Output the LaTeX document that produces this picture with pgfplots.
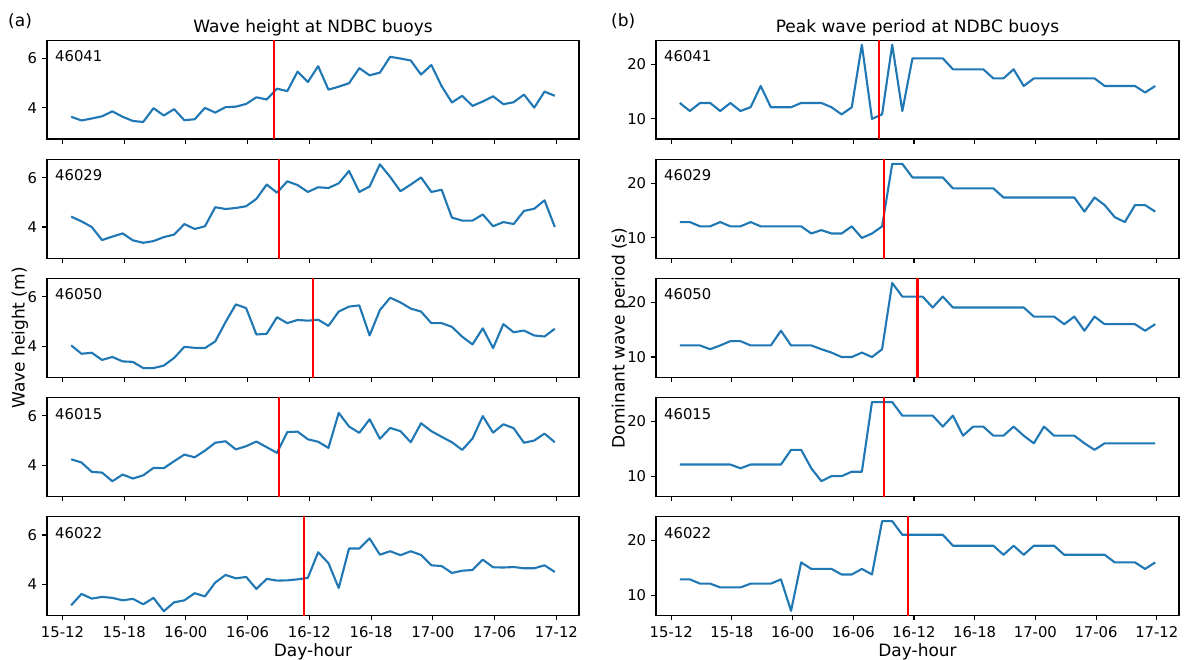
\documentclass[border=0pt]{standalone}
\usepackage{fontspec}
\setmainfont{DejaVu Sans}
\usepackage{pgfplots}
\usepackage{pgfplotstable}
\pgfplotsset{compat=1.18}
\definecolor{mplblue}{HTML}{1F77B4}
\newcommand\tickfont{\fontsize{14.8pt}{17pt}\selectfont}
\newcommand\labfont{\fontsize{17pt}{20pt}\selectfont}

% wave height (m): a=46041 b=46029 c=46050 d=46015 e=46022
\pgfplotstableread{
x a b c d e
0.85 3.64 4.42 4.03 4.24 3.15
1.85 3.49 4.23 3.69 4.11 3.61
2.85 3.57 4.00 3.73 3.73 3.42
3.85 3.66 3.47 3.44 3.70 3.49
4.85 3.86 3.61 3.56 3.35 3.45
5.85 3.64 3.74 3.38 3.62 3.35
6.85 3.47 3.46 3.36 3.46 3.41
7.85 3.43 3.36 3.11 3.59 3.19
8.85 3.99 3.43 3.11 3.89 3.45
9.85 3.69 3.59 3.21 3.88 2.91
10.85 3.95 3.69 3.52 4.16 3.27
11.85 3.50 4.12 3.97 4.43 3.35
12.85 3.54 3.92 3.93 4.32 3.64
13.85 4.00 4.03 3.92 4.59 3.51
14.85 3.81 4.80 4.19 4.91 4.07
15.85 4.03 4.73 4.97 4.97 4.38
16.85 4.05 4.77 5.69 4.64 4.24
17.85 4.16 4.84 5.54 4.77 4.30
18.85 4.43 5.14 4.47 4.96 3.81
19.85 4.34 5.72 4.50 4.73 4.22
20.85 4.78 5.39 5.17 4.50 4.15
21.85 4.68 5.85 4.93 5.34 4.16
22.85 5.47 5.70 5.06 5.36 4.20
23.85 5.05 5.42 5.03 5.05 4.26
24.85 5.69 5.61 5.07 4.95 5.30
25.85 4.74 5.58 4.82 4.70 4.86
26.85 4.86 5.77 5.40 6.12 3.85
27.85 5.00 6.27 5.60 5.57 5.45
28.85 5.61 5.42 5.65 5.31 5.45
29.85 5.32 5.64 4.43 5.86 5.86
30.85 5.43 6.54 5.46 5.07 5.20
31.85 6.07 6.03 5.96 5.51 5.34
32.85 6.00 5.45 5.77 5.38 5.18
33.85 5.92 5.72 5.52 4.93 5.34
34.85 5.35 6.01 5.40 5.70 5.19
35.85 5.74 5.42 4.93 5.38 4.77
36.85 4.88 5.51 4.93 5.15 4.74
37.85 4.22 4.38 4.78 4.93 4.46
38.85 4.49 4.26 4.38 4.62 4.55
39.85 4.08 4.26 4.07 5.08 4.58
40.85 4.26 4.51 4.72 5.99 5.00
41.85 4.47 4.03 3.92 5.32 4.69
42.85 4.15 4.20 4.89 5.66 4.68
43.85 4.23 4.12 4.56 5.50 4.70
44.85 4.54 4.65 4.63 4.91 4.65
45.85 4.01 4.74 4.43 5.00 4.65
46.85 4.66 5.08 4.39 5.28 4.77
47.85 4.49 4.00 4.70 4.93 4.50
}\Htab

% dominant wave period (s)
\pgfplotstableread{
x a b c d e
0.85 12.9 12.9 12.12 12.12 12.9
1.85 11.43 12.9 12.12 12.12 12.9
2.85 12.9 12.12 12.12 12.12 12.12
3.85 12.9 12.12 11.43 12.12 12.12
4.85 11.43 12.9 12.12 12.12 11.43
5.85 12.9 12.12 12.9 12.12 11.43
6.85 11.43 12.12 12.9 11.43 11.43
7.85 12.12 12.9 12.12 12.12 12.12
8.85 16.0 12.12 12.12 12.12 12.12
9.85 12.12 12.12 12.12 12.12 12.12
10.85 12.12 12.12 14.81 12.12 12.9
11.85 12.12 12.12 12.12 14.81 7.14
12.85 12.9 12.12 12.12 14.81 16.0
13.85 12.9 10.81 12.12 11.43 14.81
14.85 12.9 11.43 11.43 9.09 14.81
15.85 12.12 10.81 10.81 10.0 14.81
16.85 10.81 10.81 10.0 10.0 13.79
17.85 12.12 12.12 10.0 10.81 13.79
18.85 23.53 10.0 10.81 10.81 14.81
19.85 10.0 10.81 10.0 23.53 13.79
20.85 10.81 12.12 11.43 23.53 23.53
21.85 23.53 23.53 23.53 23.53 23.53
22.85 11.43 23.53 21.05 21.05 21.05
23.85 21.05 21.05 21.05 21.05 21.05
24.85 21.05 21.05 21.05 21.05 21.05
25.85 21.05 21.05 19.05 21.05 21.05
26.85 21.05 21.05 21.05 19.05 21.05
27.85 19.05 19.05 19.05 21.05 19.05
28.85 19.05 19.05 19.05 17.39 19.05
29.85 19.05 19.05 19.05 19.05 19.05
30.85 19.05 19.05 19.05 19.05 19.05
31.85 17.39 19.05 19.05 17.39 19.05
32.85 17.39 17.39 19.05 17.39 17.39
33.85 19.05 17.39 19.05 19.05 19.05
34.85 16.0 17.39 19.05 17.39 17.39
35.85 17.39 17.39 17.39 16.0 19.05
36.85 17.39 17.39 17.39 19.05 19.05
37.85 17.39 17.39 17.39 17.39 19.05
38.85 17.39 17.39 16.0 17.39 17.39
39.85 17.39 17.39 17.39 17.39 17.39
40.85 17.39 14.81 14.81 16.0 17.39
41.85 17.39 17.39 17.39 14.81 17.39
42.85 16.0 16.0 16.0 16.0 17.39
43.85 16.0 13.79 16.0 16.0 16.0
44.85 16.0 12.9 16.0 16.0 16.0
45.85 16.0 16.0 16.0 16.0 16.0
46.85 14.81 16.0 14.81 16.0 14.81
47.85 16.0 14.81 16.0 16.0 16.0
}\Ttab

\pgfplotsset{
  panel/.style={
    scale only axis, height=98.7pt, anchor=south west,
    xmin=-1.5, xmax=50.2,
    xtick={0,6,12,18,24,30,36,42,48}, xticklabels={},
    tick align=outside, xtick pos=bottom, ytick pos=left,
    major tick length=4.9pt,
    axis line style={line width=1.1pt, black},
    tick style={line width=1.1pt, black},
    tick label style={font=\tickfont},
    /pgf/number format/assume math mode=true,
    xticklabel style={inner sep=0pt, anchor=north, yshift=-6.3pt},
    yticklabel style={inner sep=0pt, anchor=east, xshift=-4.8pt},
  },
  hpanel/.style={panel, width=532pt, ymin=2.74, ymax=6.74, ytick={4,6}},
  tpanel/.style={panel, width=523pt, ymin=6.32, ymax=24.35, ytick={10,20}},
  bottompanel/.style={xticklabels={15-12,15-18,16-00,16-06,16-12,16-18,17-00,17-06,17-12}},
  dataline/.style={mplblue, line width=2.1pt, line join=round, no marks},
  redline/.style={red, line width=2.1pt, no marks},
}
\newcommand\station[1]{\node[anchor=north west, inner sep=0pt, font=\tickfont, xshift=8pt, yshift=-10.3pt] at (rel axis cs:0,1) {#1};}

\begin{document}
\begin{tikzpicture}
\fill[white] (0pt,0pt) rectangle (1184pt,660pt);

% ---------- left column: wave height ----------
\begin{axis}[hpanel, at={(47pt,521pt)}]
\addplot[dataline] table[x=x,y=a] {\Htab};
\addplot[redline] coordinates {(20.55,0) (20.55,30)};
\station{46041}
\end{axis}
\begin{axis}[hpanel, at={(47pt,401.9pt)}]
\addplot[dataline] table[x=x,y=b] {\Htab};
\addplot[redline] coordinates {(21.05,0) (21.05,30)};
\station{46029}
\end{axis}
\begin{axis}[hpanel, at={(47pt,282.8pt)}]
\addplot[dataline] table[x=x,y=c] {\Htab};
\addplot[redline] coordinates {(24.35,0) (24.35,30)};
\station{46050}
\end{axis}
\begin{axis}[hpanel, at={(47pt,163.7pt)}]
\addplot[dataline] table[x=x,y=d] {\Htab};
\addplot[redline] coordinates {(21.05,0) (21.05,30)};
\station{46015}
\end{axis}
\begin{axis}[hpanel, bottompanel, at={(47pt,44.6pt)}]
\addplot[dataline] table[x=x,y=e] {\Htab};
\addplot[redline] coordinates {(23.45,0) (23.45,30)};
\station{46022}
\end{axis}

% ---------- right column: peak period ----------
\begin{axis}[tpanel, at={(656pt,521pt)}]
\addplot[dataline] table[x=x,y=a] {\Ttab};
\addplot[redline] coordinates {(20.55,0) (20.55,30)};
\station{46041}
\end{axis}
\begin{axis}[tpanel, at={(656pt,401.9pt)}]
\addplot[dataline] table[x=x,y=b] {\Ttab};
\addplot[redline] coordinates {(21.05,0) (21.05,30)};
\station{46029}
\end{axis}
\begin{axis}[tpanel, at={(656pt,282.8pt)}]
\addplot[dataline] table[x=x,y=c] {\Ttab};
\addplot[redline] coordinates {(24.35,0) (24.35,30)};
\station{46050}
\end{axis}
\begin{axis}[tpanel, at={(656pt,163.7pt)}]
\addplot[dataline] table[x=x,y=d] {\Ttab};
\addplot[redline] coordinates {(21.05,0) (21.05,30)};
\station{46015}
\end{axis}
\begin{axis}[tpanel, bottompanel, at={(656pt,44.6pt)}]
\addplot[dataline] table[x=x,y=e] {\Ttab};
\addplot[redline] coordinates {(23.45,0) (23.45,30)};
\station{46022}
\end{axis}

% ---------- figure text ----------
\node[anchor=west, inner sep=0pt, font=\labfont] at (8pt,639pt) {(a)};
\node[anchor=west, inner sep=0pt, font=\labfont] at (611pt,639pt) {(b)};
\node[anchor=base, inner sep=0pt, font=\labfont] at (313pt,627pt) {Wave height at NDBC buoys};
\node[anchor=base, inner sep=0pt, font=\labfont] at (917.5pt,627pt) {Peak wave period at NDBC buoys};
\node[rotate=90, inner sep=0pt, font=\labfont] at (20pt,322pt) {Wave height (m)};
\node[rotate=90, inner sep=0pt, font=\labfont] at (620pt,322pt) {Dominant wave period (s)};
\node[anchor=base, inner sep=0pt, font=\labfont] at (313pt,3.8pt) {Day-hour};
\node[anchor=base, inner sep=0pt, font=\labfont] at (917.5pt,3.8pt) {Day-hour};

\pgfresetboundingbox
\path[use as bounding box] (0pt,0pt) rectangle (1184pt,660pt);
\end{tikzpicture}
\end{document}
